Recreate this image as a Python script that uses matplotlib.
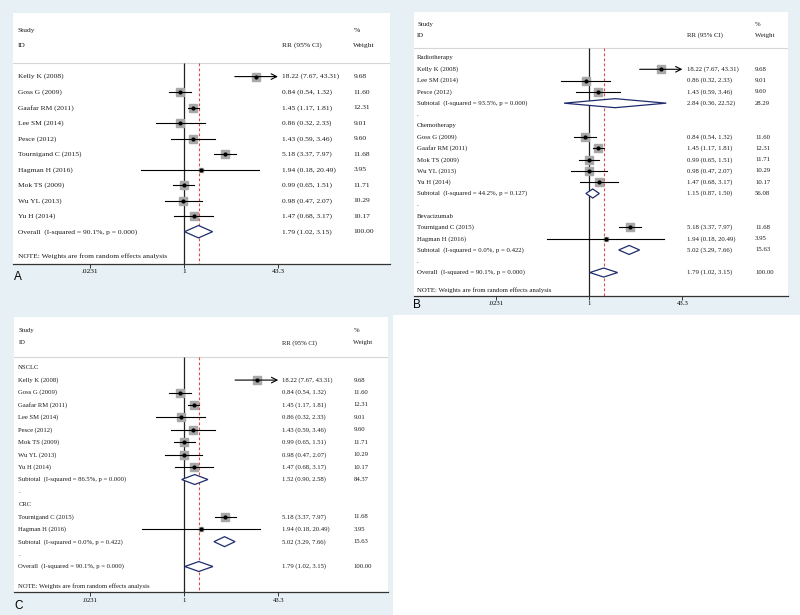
import numpy as np
import matplotlib
matplotlib.use("Agg")
import matplotlib.pyplot as plt
from matplotlib.patches import Polygon, Rectangle

plt.rcParams['font.family'] = ['Liberation Serif', 'DejaVu Serif']

# 各研究数据 RR (95% CI) 与权重
studies = ["Kelly K (2008)", "Goss G (2009)", "Gaafar RM (2011)", "Lee SM (2014)",
           "Pesce (2012)", "Tournigand C (2015)", "Hagman H (2016)", "Mok TS (2009)",
           "Wu YL (2013)", "Yu H (2014)"]
rr = [18.22, 0.84, 1.45, 0.86, 1.43, 5.18, 1.94, 0.99, 0.98, 1.47]
ci_lo = [7.67, 0.54, 1.17, 0.32, 0.59, 3.37, 0.18, 0.65, 0.47, 0.68]
ci_hi = [43.31, 1.32, 1.81, 2.33, 3.46, 7.97, 20.49, 1.51, 2.07, 3.17]
weight = [9.68, 11.60, 12.31, 9.01, 9.60, 11.68, 3.95, 11.71, 10.29, 10.17]

overall_het = "I-squared = 90.1%, p = 0.000"
overall_est = [1.79, 1.02, 3.15]

# B: 按治疗方式分组
treat_groups = ["Radiotherapy", "Chemotherapy", "Bevacizumab"]
treat_members = [["Kelly K (2008)", "Lee SM (2014)", "Pesce (2012)"],
                 ["Goss G (2009)", "Gaafar RM (2011)", "Mok TS (2009)", "Wu YL (2013)", "Yu H (2014)"],
                 ["Tournigand C (2015)", "Hagman H (2016)"]]
treat_het = ["I-squared = 93.5%, p = 0.000", "I-squared = 44.2%, p = 0.127", "I-squared = 0.0%, p = 0.422"]
treat_rr = [2.84, 1.15, 5.02]
treat_lo = [0.36, 0.87, 3.29]
treat_hi = [22.52, 1.50, 7.66]
treat_wt = [28.29, 56.08, 15.63]

# C: 按癌种分组
cancer_groups = ["NSCLC", "CRC"]
cancer_members = [["Kelly K (2008)", "Goss G (2009)", "Gaafar RM (2011)", "Lee SM (2014)",
                   "Pesce (2012)", "Mok TS (2009)", "Wu YL (2013)", "Yu H (2014)"],
                  ["Tournigand C (2015)", "Hagman H (2016)"]]
cancer_het = ["I-squared = 86.5%, p = 0.000", "I-squared = 0.0%, p = 0.422"]
cancer_rr = [1.52, 5.02]
cancer_lo = [0.90, 3.29]
cancer_hi = [2.58, 7.66]
cancer_wt = [84.37, 15.63]

xticks = [0.0231, 1, 43.3]
xtick_labels = [".0231", "1", "43.3"]

W, H = 800, 615
BG = '#e7f0f4'
NAVY = '#1f2d6e'


def rr_text(a, b, c):
    return "%.2f (%.2f, %.2f)" % (a, b, c)


def build_rows(groups=None, members=None, het=None, s_rr=None, s_lo=None, s_hi=None, s_wt=None):
    rows = []
    if groups is None:
        for i in range(len(studies)):
            rows.append(('study', studies[i], i))
    else:
        for g in range(len(groups)):
            rows.append(('label', groups[g], None))
            for name in members[g]:
                rows.append(('study', name, studies.index(name)))
            rows.append(('sub', "Subtotal  (" + het[g] + ")", (s_rr[g], s_lo[g], s_hi[g], s_wt[g])))
            rows.append(('label', ".", None))
    rows.append(('overall', "Overall  (" + overall_het + ")",
                 (overall_est[0], overall_est[1], overall_est[2], 100.0)))
    return rows


def draw_panel(rows, box, one_px, ppd, cols, fs, letter, letter_pos):
    left, right, top, bottom = box
    ax = fig.add_axes([left / W, 1 - bottom / H, (right - left) / W, (bottom - top) / H])
    ax.set_facecolor('white')
    n = len(rows)
    ax.set_xscale('log')
    ax.set_xlim(10 ** ((left - one_px) / ppd), 10 ** ((right - one_px) / ppd))
    ax.set_ylim(n - 1 + 2.05, -4.1)

    def px2x(p):
        return 10 ** ((p - one_px) / ppd)

    xn, xr, xw = px2x(cols[0]), px2x(cols[1]), px2x(cols[2])
    xmin, xmax = xticks[0], xticks[-1]
    tc = '#1a1a1a'

    # 表头
    ax.text(xn, -3, "Study", fontsize=fs, va='center', color=tc)
    ax.text(xn, -2, "ID", fontsize=fs, va='center', color=tc)
    ax.text(xr, -2, "RR (95% CI)", fontsize=fs, va='center', color=tc)
    ax.text(xw, -3, "%", fontsize=fs, va='center', color=tc)
    ax.text(xw, -2, "Weight", fontsize=fs, va='center', color=tc)
    ax.axhline(-0.87, color='#d6d6d6', lw=0.8)

    # 无效线与合并效应线
    ax.vlines(1, -0.87, n - 1 + 2.05, color='#222222', lw=0.9, zorder=2)
    ax.vlines(overall_est[0], -0.87, n - 1 + 2.05, color='#e04848', lw=0.8,
              linestyles=(0, (2.5, 2)), zorder=2)

    for y, (kind, label, val) in enumerate(rows):
        ax.text(xn, y, label, fontsize=fs, va='center', color=tc)
        if kind == 'study':
            a, b, c, w = rr[val], ci_lo[val], ci_hi[val], weight[val]
            ax.text(xr, y, rr_text(a, b, c), fontsize=fs, va='center', color=tc)
            ax.text(xw, y, "%.2f" % w, fontsize=fs, va='center', color=tc)
            ax.plot(a, y, 's', ms=1.7 * np.sqrt(w), mfc='#a8a8a8', mec='#a8a8a8', zorder=3)
            if c > xmax:
                ax.annotate('', xy=(xmax, y), xytext=(b, y),
                            arrowprops=dict(arrowstyle='->', color='black', lw=0.8,
                                            shrinkA=0, shrinkB=0), zorder=4)
            else:
                ax.plot([max(b, xmin), c], [y, y], color='black', lw=0.8, zorder=4)
            ax.plot(a, y, 'o', ms=2.0, color='black', zorder=5)
        elif kind in ('sub', 'overall'):
            a, b, c, w = val
            ax.text(xr, y, rr_text(a, b, c), fontsize=fs, va='center', color=tc)
            ax.text(xw, y, "%.2f" % w, fontsize=fs, va='center', color=tc)
            h = 0.4
            ax.add_patch(Polygon([(b, y), (a, y - h), (c, y), (a, y + h)], closed=True,
                                 fc='white', ec=NAVY, lw=0.9, zorder=4))

    ax.text(xn, n - 1 + 1.6, "NOTE: Weights are from random effects analysis",
            fontsize=fs, va='center', color=tc)

    for s in ['top', 'left', 'right']:
        ax.spines[s].set_visible(False)
    ax.spines['bottom'].set_color('#333333')
    ax.spines['bottom'].set_linewidth(0.9)
    ax.set_yticks([])
    ax.minorticks_off()
    ax.set_xticks(xticks)
    ax.set_xticklabels(xtick_labels)
    ax.tick_params(axis='x', length=3, width=0.7, pad=1, labelsize=fs, color='#333333')
    fig.text(letter_pos[0] / W, 1 - letter_pos[1] / H, letter, fontsize=8.5,
             family='Liberation Sans', va='center', ha='left')
    return ax


fig = plt.figure(figsize=(8, 6.15), dpi=100)
fig.patch.set_facecolor(BG)
fig.add_artist(Rectangle((393 / W, 0), 1 - 393 / W, 1 - 315 / H, transform=fig.transFigure,
                         fc='white', ec='none', zorder=-5))

rows_a = build_rows()
rows_b = build_rows(treat_groups, treat_members, treat_het, treat_rr, treat_lo, treat_hi, treat_wt)
rows_c = build_rows(cancer_groups, cancer_members, cancer_het, cancer_rr, cancer_lo, cancer_hi, cancer_wt)

draw_panel(rows_a, (13, 390, 13, 263.5), 184.0, 57.4, (17.5, 281.7, 353.3), 5.4, "A", (14, 277))
draw_panel(rows_b, (414, 788, 11.7, 295.7), 589.3, 56.9, (417, 686.7, 755), 4.9, "B", (413, 305))
draw_panel(rows_c, (14, 388, 316.7, 592), 184.3, 57.4, (18.3, 281.7, 353.3), 4.75, "C", (14, 606))

plt.savefig("out.png", dpi=100)
